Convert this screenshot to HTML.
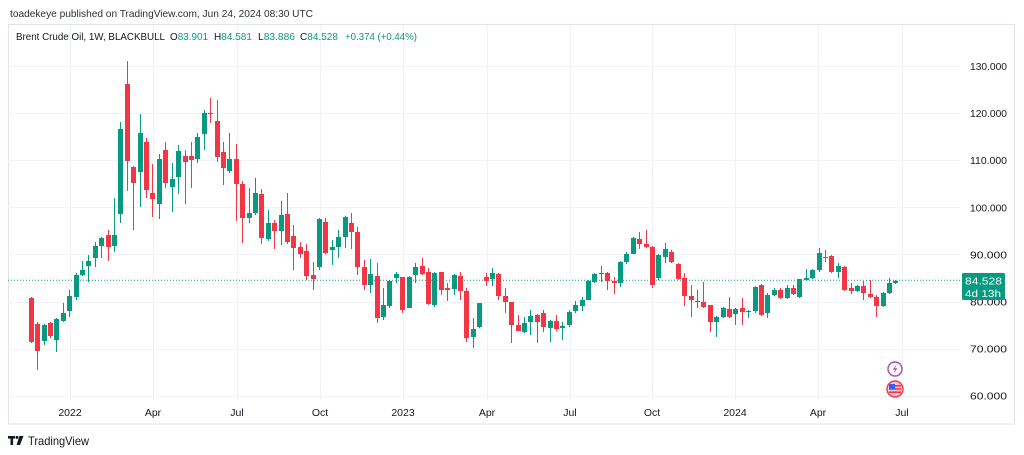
<!DOCTYPE html>
<html><head><meta charset="utf-8">
<style>
html,body{margin:0;padding:0;background:#fff;}
body{width:1024px;height:455px;overflow:hidden;}
svg{display:block;font-family:"Liberation Sans",Arial,sans-serif;}
</style></head>
<body>
<svg id="s" width="1024" height="455" viewBox="0 0 1024 455" xmlns="http://www.w3.org/2000/svg">
<rect x="0" y="0" width="1024" height="455" fill="#fff"/>
<text x="10" y="17" font-size="10.5" fill="#2a2e39" textLength="303" lengthAdjust="spacingAndGlyphs">toadekeye published on TradingView.com, Jun 24, 2024 08:30 UTC</text>
<rect x="8.5" y="24.5" width="1006" height="399.5" fill="#fff" stroke="#e0e3eb" stroke-width="1"/>
<g id="grid" stroke="#f0f3fa" stroke-width="1"></g>
<line x1="8" y1="280.2" x2="960" y2="280.2" stroke="#089981" stroke-width="1" stroke-dasharray="1,2"/>
<g id="candles"></g>
<g font-size="10.5" fill="#131722">
<text x="16" y="40" textLength="149" lengthAdjust="spacingAndGlyphs">Brent Crude Oil, 1W, BLACKBULL</text>
<text x="170" y="40" textLength="38" lengthAdjust="spacingAndGlyphs">O<tspan fill="#089981">83.901</tspan></text>
<text x="214" y="40" textLength="38" lengthAdjust="spacingAndGlyphs">H<tspan fill="#089981">84.581</tspan></text>
<text x="258" y="40" textLength="37" lengthAdjust="spacingAndGlyphs">L<tspan fill="#089981">83.886</tspan></text>
<text x="300" y="40" textLength="38" lengthAdjust="spacingAndGlyphs">C<tspan fill="#089981">84.528</tspan></text>
<text x="345" y="40" fill="#089981" textLength="72" lengthAdjust="spacingAndGlyphs">+0.374 (+0.44%)</text>
</g>
<g id="plabels" font-size="10.5" fill="#131722"></g>
<g id="tlabels" font-size="10.5" fill="#131722" text-anchor="middle"></g>
<rect x="962" y="273" width="43" height="27" fill="#089981" rx="1.5"/>
<text x="965" y="284.5" font-size="10.5" fill="#fff" textLength="37" lengthAdjust="spacingAndGlyphs">84.528</text>
<text x="965" y="297" font-size="10.5" fill="#fff" textLength="36" lengthAdjust="spacingAndGlyphs">4d 13h</text>
<!-- icons -->
<circle cx="895" cy="369" r="7" fill="#fff" stroke="#ab47bc" stroke-width="1.4"/>
<path d="M896.5 364.5 L892.8 369.6 L895.2 369.6 L893.8 373.5 L897.4 368.2 L895 368.2 Z" fill="#ab47bc"/>
<circle cx="895" cy="389" r="8" fill="#f7c5c8" stroke="#f23645" stroke-width="1.4"/>
<rect x="889" y="385" width="12" height="1.6" fill="#f23645"/>
<rect x="889" y="388.2" width="12" height="1.6" fill="#f23645"/>
<rect x="889" y="391.4" width="12" height="1.6" fill="#f23645"/>
<rect x="889" y="384" width="6" height="5" fill="#2962ff"/>
<!-- logo -->
<g fill="#131722">
<rect x="8" y="436" width="7" height="2.6"/>
<rect x="10.5" y="436" width="2.6" height="9"/>
<circle cx="17" cy="437.4" r="1.5"/>
<path d="M19.5 436 L23.5 436 L20 445 L16.5 445 Z"/>
</g>
<text x="28" y="445" font-size="12" fill="#131722" textLength="61" lengthAdjust="spacingAndGlyphs">TradingView</text>
</svg>
<script>
(function(){
var NS="http://www.w3.org/2000/svg";
function el(n,a,p){var e=document.createElementNS(NS,n);for(var k in a)e.setAttribute(k,a[k]);p.appendChild(e);return e;}
var grid=document.getElementById('grid');
var py=function(p){return 66+(130-p)*4.71;};
for(var p=60;p<=130;p+=10){var y=Math.round(py(p))+0.5;el('line',{x1:8,y1:y,x2:960,y2:y},grid);}
var xs=[70,153,237,320,403,487,570,652,735,818,902];
xs.forEach(function(x){el('line',{x1:x+0.5,y1:25,x2:x+0.5,y2:400},grid);});
var pl=document.getElementById('plabels');
for(var p=60;p<=130;p+=10){var t=el('text',{x:970,y:py(p)+4,textLength:37,lengthAdjust:'spacingAndGlyphs'},pl);t.textContent=p+'.000';}
var tl=document.getElementById('tlabels');
var names=['2022','Apr','Jul','Oct','2023','Apr','Jul','Oct','2024','Apr','Jul'];
xs.forEach(function(x,i){var t=el('text',{x:x,y:416},tl);t.textContent=names[i];});
var D=[
['r',298,342,297,343],['r',324,351,322,370],['g',325,341,324,345],['r',323,336,322,338],['g',319,340,318,352],
['g',313,321,303,322],['g',296,311,290,317],['g',275,297,273,300],['g',270,275,261,276],['g',261,266,255,282],
['g',246,258,242,267],['g',238,246,237,258],['r',235,247,230,261],['g',235,246,198,252],['g',129,214,122,223],
['r',84,161,61,191],['r',167,183,166,230],['g',133,172,114,207],['r',142,190,138,198],['r',193,199,164,217],
['g',159,204,154,219],['r',150,183,142,188],['g',179,187,163,212],['g',151,177,145,194],['r',156,162,150,204],
['r',156,160,142,188],['g',137,159,133,163],['g',113,134,110,150],['r',113,114,98,123],['r',121,157,100,162],
['r',152,168,142,185],['g',159,171,133,173],['r',159,184,144,221],['r',184,218,181,243],['g',213,218,188,223],
['g',193,213,178,215],['r',194,238,189,244],['g',223,239,210,241],['r',223,231,220,249],['g',215,231,201,245],
['r',214,242,193,244],['r',236,248,225,270],['r',247,254,242,258],['r',251,276,244,280],['r',275,279,262,290],
['g',219,267,218,270],['r',222,253,218,254],['g',247,250,240,265],['g',237,247,230,258],['g',217,237,216,248],
['r',223,232,213,249],['r',232,267,227,275],['r',267,285,260,290],['g',274,285,259,293],['r',276,318,263,323],
['g',305,317,288,320],['g',281,306,280,308],['g',274,278,272,283],['r',277,310,277,313],['g',277,308,276,308],
['g',267,275,263,283],['r',266,274,258,275],['r',272,304,268,305],['g',273,305,272,307],['r',272,290,272,295],
['r',288,290,283,301],['g',275,289,274,295],['r',276,291,272,300],['r',291,338,288,342],['g',329,337,318,348],
['g',303,327,303,328],['r',277,281,273,286],['g',273,279,268,286],['r',274,296,273,300],['r',296,302,288,313],
['r',302,325,302,343],['r',325,331,315,331],['g',323,332,317,333],['g',316,322,310,335],['r',315,322,314,343],
['r',313,327,310,332],['g',321,328,320,342],['r',321,329,315,331],['g',326,328,322,340],['g',312,325,310,327],
['g',305,311,301,313],['g',300,306,297,311],['g',281,300,280,300],['g',274,282,273,283],['g',273,274,266,282],
['r',273,281,272,290],['r',281,283,277,294],['g',262,283,261,287],['g',254,262,252,264],['g',238,254,237,254],
['r',239,244,232,249],['r',244,247,230,248],['r',247,285,246,288],['g',255,278,254,280],['g',249,257,243,263],
['r',252,262,250,263],['r',264,279,263,280],['r',278,296,273,306],['r',296,300,285,317],['g',301,302,290,308],
['r',302,307,282,308],['r',305,322,305,332],['g',317,322,316,337],['g',308,317,307,318],['r',309,317,297,318],
['g',309,314,308,325],['r',308,312,298,325],['g',311,312,310,318],['g',287,311,286,313],['r',285,315,284,316],
['g',295,313,293,318],['g',290,295,288,296],['r',290,298,288,299],['g',288,298,285,299],['r',288,294,285,295],
['g',279,297,279,298],['g',278,280,269,281],['g',270,278,269,279],['g',253,270,248,272],['r',257,258,250,262],
['r',256,272,255,273],['g',266,272,263,278],['r',267,290,266,291],['r',288,291,283,294],['g',286,291,285,292],
['r',286,293,281,300],['r',294,297,280,298],['r',297,306,295,317],['g',293,306,292,307],['g',283,293,278,294],
['g',281,283,280,284]
];
var cg=document.getElementById('candles');
D.forEach(function(d,i){
 var x=30.8+i*6.405;
 var col=d[0]=='g'?'#089981':'#f23645';
 var xc=Math.round(x)+0.5;
 el('line',{x1:xc,y1:d[3],x2:xc,y2:d[4],stroke:col,'stroke-width':1},cg);
 var h=Math.max(1,d[2]-d[1]);
 el('rect',{x:xc-2.5,y:d[1],width:5,height:h,fill:col},cg);
});
})();
</script>
</body></html>
